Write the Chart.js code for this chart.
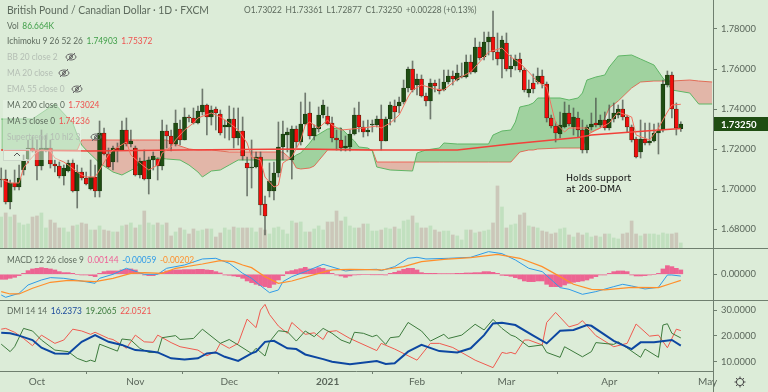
<!DOCTYPE html>
<html>
<head>
<meta charset="utf-8">
<script src="https://cdn.jsdelivr.net/npm/chart.js@4/dist/chart.umd.min.js"></script>
<style>
    html, body { margin: 0; padding: 0; background: #dcecd8; overflow: hidden; }
    #wrap { position: relative; width: 768px; height: 392px; font-family: Lato, sans-serif; }
    canvas { position: absolute; left: 0; top: 0; }
    .t { position: absolute; font-size: 9.3px; line-height: 14px; white-space: nowrap; color: #5d6a5d; transform: scaleX(.9); transform-origin: 0 0; }
    .t span { margin-left: 4px; }
    .f { color: #b4beb4; }
    .g { color: #3f9f48; } .r { color: #ef5350; } .b { color: #2f9be8; } .o { color: #ff8f2b; }
    .p { color: #ee5f95; } .n { color: #1b4a9c; } .d { color: #3c7a3c; }
    #veil { position: absolute; left: 3px; top: 100px; width: 78px; height: 60px; background: rgba(234,244,232,.5); }
    #caret { position: absolute; left: 3px; top: 149px; width: 27px; height: 12px; border: 1px solid #ccd8ca; box-sizing: border-box; }
    svg.eye { position: absolute; width: 12px; height: 12px; }
</style>
</head>
<body>
<div id="wrap">
    <canvas id="chart" width="768" height="392"></canvas>
    <div id="veil"></div>
    <div id="caret"></div>
    <div class="t" style="left:7px;top:2px;font-size:11.5px;line-height:16px">British Pound / Canadian Dollar · 1D · FXCM</div>
    <div class="t" style="left:244px;top:3px">O1.73022<span>H1.73361</span><span>L1.72877</span><span>C1.73250</span><span>+0.00228 (+0.13%)</span></div>
    <div class="t" style="left:7px;top:19px">Vol<span class="g">86.664K</span></div>
    <div class="t" style="left:7px;top:34px">Ichimoku 9 26 52 26<span class="g">1.74903</span><span class="r">1.75372</span></div>
    <div class="t f" style="left:7px;top:50px">BB 20 close 2</div>
    <div class="t f" style="left:7px;top:66px">MA 20 close</div>
    <div class="t f" style="left:7px;top:82px">EMA 55 close 0</div>
    <div class="t" style="left:7px;top:98px">MA 200 close 0<span class="r">1.73024</span></div>
    <div class="t" style="left:7px;top:114px">MA 5 close 0<span class="r">1.74236</span></div>
    <div class="t f" style="left:7px;top:130px">Supertrend 10 hl2 3</div>
    <div class="t" style="left:7px;top:253px">MACD 12 26 close 9<span class="p">0.00144</span><span class="b">-0.00059</span><span class="o">-0.00202</span></div>
    <div class="t" style="left:7px;top:304px">DMI 14 14<span class="n">16.2373</span><span class="d">19.2065</span><span class="r">22.0521</span></div>
    <div class="t" style="left:566px;top:172px;color:#111;font-family:'DejaVu Sans';font-size:9.4px;line-height:11px;transform:none">Holds support<br>at 200-DMA</div>
    <svg class="eye" style="left:65px;top:51px" viewBox="0 0 12 12"><ellipse cx="6" cy="6" rx="5" ry="3" fill="none" stroke="#666"/><circle cx="6" cy="6" r="1.5" fill="none" stroke="#666"/><path d="M2 10L10 2" stroke="#666"/></svg>
    <svg class="eye" style="left:58px;top:67px" viewBox="0 0 12 12"><ellipse cx="6" cy="6" rx="5" ry="3" fill="none" stroke="#666"/><circle cx="6" cy="6" r="1.5" fill="none" stroke="#666"/><path d="M2 10L10 2" stroke="#666"/></svg>
    <svg class="eye" style="left:71px;top:83px" viewBox="0 0 12 12"><ellipse cx="6" cy="6" rx="5" ry="3" fill="none" stroke="#666"/><circle cx="6" cy="6" r="1.5" fill="none" stroke="#666"/><path d="M2 10L10 2" stroke="#666"/></svg>
    <svg class="eye" style="left:90px;top:131px" viewBox="0 0 12 12"><ellipse cx="6" cy="6" rx="5" ry="3" fill="none" stroke="#666"/><circle cx="6" cy="6" r="1.5" fill="none" stroke="#666"/><path d="M2 10L10 2" stroke="#666"/></svg>
    <svg style="position:absolute;left:13px;top:151px;width:8px;height:8px" viewBox="0 0 8 8"><path d="M1 5L4 2L7 5" fill="none" stroke="#555"/></svg>
    <svg style="position:absolute;left:734px;top:376px;width:12px;height:12px" viewBox="0 0 12 12"><circle cx="6" cy="6" r="3.6" fill="none" stroke="#444"/><path d="M6 0.5V2.4M6 9.6V11.5M0.5 6H2.4M9.6 6H11.5M2.1 2.1L3.5 3.5M8.5 8.5L9.9 9.9M2.1 9.9L3.5 8.5M8.5 3.5L9.9 2.1" stroke="#444"/></svg>
</div>
<script>
// Candles
const opens = [1.7045,1.7050,1.6935,1.7030,1.7010,1.7095,1.7150,1.7205,1.7195,1.7115,1.7195,1.7205,1.7125,1.7115,1.7065,1.7090,1.7130,1.6990,1.7085,1.7055,1.7000,1.7060,1.6990,1.7280,1.7175,1.7135,1.7205,1.7195,1.7295,1.7225,
    1.7205,1.7070,1.7140,1.7050,1.7145,1.7150,1.7115,1.7290,1.7265,1.7225,1.7300,1.7245,1.7360,1.7355,1.7330,1.7385,1.7420,1.7360,1.7400,1.7375,1.7310,1.7310,1.7350,1.7255,1.7290,1.7130,1.7105,1.7110,1.7160,1.6925,
    1.6990,1.6990,1.7080,1.7210,1.7270,1.7145,1.7300,1.7235,1.7325,1.7380,1.7265,1.7300,1.7370,1.7365,1.7330,1.7255,1.7245,1.7205,1.7210,1.7275,1.7370,1.7310,1.7285,1.7320,1.7320,1.7350,1.7240,1.7350,1.7415,1.7415,
    1.7435,1.7505,1.7600,1.7520,1.7550,1.7465,1.7440,1.7530,1.7500,1.7495,1.7535,1.7565,1.7545,1.7560,1.7560,1.7635,1.7585,1.7710,1.7660,1.7735,1.7760,1.7685,1.7650,1.7730,1.7600,1.7615,1.7650,1.7595,1.7480,1.7530,
    1.7535,1.7565,1.7525,1.7355,1.7315,1.7275,1.7310,1.7380,1.7310,1.7355,1.7295,1.7195,1.7310,1.7330,1.7320,1.7345,1.7305,1.7350,1.7370,1.7400,1.7360,1.7310,1.7250,1.7185,1.7250,1.7230,1.7240,1.7280,1.7295,1.7520,
    1.7570,1.7400,1.73022];
const closes = [1.7050,1.6935,1.7030,1.7010,1.7055,1.7140,1.7205,1.7190,1.7115,1.7205,1.7205,1.7125,1.7115,1.7065,1.7105,1.7130,1.6990,1.7085,1.7055,1.7025,1.7060,1.6990,1.7280,1.7175,1.7110,1.7205,1.7195,1.7295,1.7225,1.7240,
    1.7070,1.7140,1.7050,1.7145,1.7165,1.7115,1.7290,1.7265,1.7225,1.7330,1.7245,1.7360,1.7355,1.7330,1.7390,1.7420,1.7360,1.7395,1.7380,1.7280,1.7320,1.7350,1.7255,1.7290,1.7165,1.7105,1.7110,1.7160,1.6920,1.6865,
    1.7040,1.7080,1.7210,1.7275,1.7285,1.7300,1.7235,1.7325,1.7375,1.7265,1.7305,1.7370,1.7420,1.7325,1.7255,1.7245,1.7205,1.7215,1.7275,1.7370,1.7310,1.7285,1.7295,1.7325,1.7350,1.7240,1.7350,1.7420,1.7385,1.7435,
    1.7505,1.7600,1.7495,1.7550,1.7465,1.7440,1.7530,1.7515,1.7490,1.7535,1.7565,1.7550,1.7580,1.7565,1.7635,1.7585,1.7710,1.7655,1.7735,1.7760,1.7685,1.7650,1.7745,1.7600,1.7615,1.7650,1.7595,1.7495,1.7500,1.7500,
    1.7565,1.7525,1.7355,1.7315,1.7280,1.7320,1.7380,1.7325,1.7360,1.7295,1.7195,1.7310,1.7325,1.7320,1.7345,1.7305,1.7350,1.7380,1.7400,1.7360,1.7310,1.7245,1.7160,1.7250,1.7230,1.7240,1.7280,1.7295,1.7525,1.7570,
    1.7400,1.7305,1.73250];
const highs = [1.7105,1.7095,1.7045,1.7095,1.7120,1.7170,1.7245,1.7260,1.7245,1.7295,1.7270,1.7245,1.7145,1.7135,1.7120,1.7145,1.7150,1.7120,1.7105,1.7085,1.7145,1.7120,1.7340,1.7305,1.7205,1.7215,1.7230,1.7340,1.7355,1.7295,
    1.7215,1.7155,1.7195,1.7160,1.7185,1.7155,1.7345,1.7320,1.7295,1.7395,1.7345,1.7405,1.7370,1.7405,1.7415,1.7500,1.7425,1.7415,1.7410,1.7395,1.7345,1.7415,1.7405,1.7405,1.7360,1.7160,1.7245,1.7185,1.7185,1.6965,
    1.7130,1.7135,1.7335,1.7340,1.7305,1.7315,1.7315,1.7435,1.7480,1.7435,1.7320,1.7410,1.7445,1.7410,1.7360,1.7295,1.7305,1.7265,1.7295,1.7405,1.7435,1.7340,1.7345,1.7345,1.7365,1.7420,1.7360,1.7435,1.7445,1.7460,
    1.7545,1.7610,1.7640,1.7575,1.7570,1.7480,1.7550,1.7545,1.7550,1.7595,1.7595,1.7590,1.7620,1.7630,1.7670,1.7670,1.7755,1.7735,1.7785,1.7785,1.7890,1.7780,1.7765,1.7780,1.7670,1.7670,1.7680,1.7605,1.7545,1.7575,
    1.7605,1.7595,1.7535,1.7370,1.7335,1.7385,1.7435,1.7420,1.7405,1.7385,1.7345,1.7320,1.7380,1.7455,1.7370,1.7385,1.7420,1.7430,1.7420,1.7445,1.7370,1.7320,1.7260,1.7345,1.7330,1.7330,1.7325,1.7330,1.7545,1.7590,
    1.7585,1.7430,1.73361];
const lows = [1.7010,1.6925,1.6900,1.6995,1.6995,1.7070,1.7130,1.7185,1.7045,1.7095,1.7185,1.7105,1.7085,1.7055,1.7020,1.7085,1.6985,1.6905,1.7045,1.7020,1.6995,1.6960,1.6960,1.7170,1.7105,1.7095,1.7135,1.7195,1.7215,1.7210,
    1.7065,1.7055,1.7045,1.6975,1.7095,1.7045,1.7095,1.7205,1.7190,1.7215,1.7220,1.7245,1.7335,1.7325,1.7325,1.7370,1.7270,1.7320,1.7295,1.7270,1.7255,1.7245,1.7205,1.7220,1.7145,1.6965,1.7005,1.7105,1.6870,1.6770,
    1.6960,1.6945,1.7060,1.7145,1.7185,1.7050,1.7205,1.7220,1.7320,1.7250,1.7245,1.7285,1.7355,1.7320,1.7235,1.7195,1.7190,1.7190,1.7190,1.7270,1.7285,1.7260,1.7265,1.7285,1.7310,1.7195,1.7240,1.7320,1.7335,1.7380,
    1.7425,1.7485,1.7485,1.7470,1.7460,1.7415,1.7350,1.7485,1.7475,1.7490,1.7525,1.7520,1.7540,1.7555,1.7555,1.7575,1.7580,1.7645,1.7645,1.7670,1.7645,1.7620,1.7555,1.7590,1.7560,1.7595,1.7585,1.7485,1.7460,1.7480,
    1.7525,1.7505,1.7335,1.7305,1.7235,1.7255,1.7305,1.7315,1.7270,1.7260,1.7180,1.7180,1.7295,1.7310,1.7310,1.7295,1.7295,1.7335,1.7355,1.7345,1.7285,1.7235,1.7155,1.7155,1.7220,1.7220,1.7235,1.7175,1.7285,1.7510,
    1.7355,1.7270,1.72877];
const volumes = [536,606,536,571,433,398,415,536,554,606,346,484,433,346,346,277,381,398,433,415,311,311,381,311,294,277,277,381,398,433,
    346,398,640,433,398,433,398,433,208,277,346,311,242,329,294,311,329,329,190,260,346,311,363,346,346,346,346,277,346,311,
    242,346,363,311,242,467,433,450,277,277,329,381,311,450,450,640,467,536,381,346,346,415,415,294,294,311,346,329,363,329,
    467,484,554,433,346,346,381,311,277,294,294,225,208,138,311,311,260,277,294,311,433,1073,709,346,398,415,571,606,381,363,
    346,294,277,242,260,329,346,225,190,260,225,260,190,208,190,242,242,173,156,242,260,467,242,208,242,242,242,225,260,242,
    242,260,86.664];
const macdHist = [-0.00165,-0.00165,-0.00132,-0.00099,-0.00044,0.00033,0.00121,0.00176,0.00198,0.0022,0.00198,0.00176,0.00143,0.00088,0.00055,0.00055,0.00033,0,-0.00022,-0.00022,-0.00044,-0.00077,0.00033,0.00088,0.0011,0.0011,0.0011,0.00143,0.00165,0.00176,
    0.00143,0.00044,-0.00022,-0.00044,-0.00044,0.00011,0.00066,0.0011,0.00132,0.00143,0.00143,0.00154,0.00154,0.00154,0.00165,0.00165,0.00143,0.00132,0.00088,0.00044,-0.00022,-0.00033,-0.00055,-0.00077,-0.00132,-0.0022,-0.00275,-0.0033,-0.00374,-0.00407,
    -0.0044,-0.0033,-0.00187,-0.00044,0.00088,0.00121,0.00154,0.00187,0.00231,0.00176,0.00176,0.0022,0.00198,0.00143,0.00033,-0.00022,-0.00055,-0.00099,-0.00055,-0.00022,-0.00011,0,0,-0.00011,-0.00011,-0.00011,-0.00022,0.00033,0.00066,0.0011,
    0.00165,0.00198,0.00198,0.00143,0.00055,0.00033,0.00033,0.00033,0.00022,0.00022,0.00022,0.00022,0.00033,0.00033,0.00044,0.00044,0.00055,0.00055,0.00088,0.00088,0.00066,0.00033,-0.00033,-0.00044,-0.00066,-0.0011,-0.00154,-0.0022,-0.00242,-0.00242,
    -0.0022,-0.0022,-0.00330,-0.00407,-0.00407,-0.00407,-0.00352,-0.00297,-0.00264,-0.00242,-0.0022,-0.00187,-0.00132,-0.00077,-0.00022,-0.00022,0.00033,0.00088,0.0011,0.0011,0.00088,-0.00022,-0.00055,-0.00055,-0.00044,-0.00022,0,0.00033,0.00176,0.00286,
    0.00253,0.00198,0.00144];

const macdIdx = [0,1,4,6,9,11,14,17,21,22,25,28,32,35,37,41,45,48,51,54,56,58,60,62,63,65,68,72,77,79,84,85,88,91,93,95,100,105,109,112,115,118,121,125,127,130,133,137,139,141,144,147,149,150,152];
const macdLine = [-0.00682,-0.00759,-0.00627,-0.00352,-0.00187,-0.0011,-0.00132,-0.00198,-0.00297,-0.00132,0,0.00198,0,0,0.00198,0.00308,0.00506,0.00528,0.00363,0.00033,-0.00132,-0.00374,-0.00605,-0.00517,-0.00242,-0.00077,0.00088,0.0033,0.0011,0.00143,0.00165,0.00121,0.00253,0.00528,0.00561,0.00506,0.00528,0.00561,0.00748,0.00682,0.00473,0.00198,0.00088,-0.0044,-0.00495,-0.0066,-0.00572,-0.00407,-0.0033,-0.00385,-0.00484,-0.00429,-0.00022,-0.00022,-0.00059];
const signalIdx = [0,2,4,7,11,15,21,25,29,32,36,39,45,49,52,54,56,59,62,65,71,74,78,85,90,94,99,105,111,116,121,125,128,132,135,141,147,150,152];
const signalLine = [-0.00572,-0.00649,-0.00649,-0.00462,-0.00264,-0.00198,-0.00242,-0.00132,0.00033,0.00055,0.00033,0.00198,0.00341,0.00451,0.00418,0.00308,0.0022,-0.00077,-0.00297,-0.0022,0.00033,0.00143,0.00165,0.00143,0.00253,0.00418,0.00495,0.0055,0.0066,0.00528,0.00253,-0.00077,-0.0033,-0.00495,-0.00517,-0.00429,-0.0044,-0.00297,-0.00202];

const adxIdx = [0,2,4,7,9,12,15,18,21,24,27,30,33,35,38,41,44,46,48,50,53,56,57,59,61,64,66,68,72,74,78,84,86,88,91,94,98,102,105,108,110,112,115,119,122,125,128,131,132,137,141,143,146,150,152];
const adxLine = [21.2,21.0,20.1,18.4,15.4,13.2,13.1,17.7,20.3,17.7,16.5,14.5,14.1,13.6,11.3,10.9,11.3,13.2,13.6,11.9,10.3,13.2,13.9,17.7,18.1,15.2,14.9,12.8,11.0,10.0,9.0,10.3,9.1,9.4,13.9,16.5,14.1,13.6,15.2,20.3,24.8,25.1,24.2,20.1,17.1,22.0,22.3,24.2,23.9,18.1,14.9,17.5,17.5,18.4,16.2373];
const plusIdx = [0,2,3,5,7,9,12,15,17,19,20,21,22,26,27,29,31,33,35,36,39,40,43,45,49,51,53,56,57,59,60,62,64,66,68,70,72,74,76,78,79,81,83,84,86,87,89,91,94,96,99,100,103,106,108,110,112,114,115,118,121,122,125,126,130,132,133,137,138,143,144,147,148,149,150,152];
const plusLine = [16.8,13.9,15.8,22.9,21.9,18.4,14.5,13.9,11.3,10.0,10.6,10.0,16.8,14.1,18.8,18.4,15.2,13.6,13.6,19.3,20.1,18.6,19.0,22.6,17.1,18.6,16.5,13.2,15.2,12.2,17.7,22.0,21.6,18.0,21.9,19.7,22.9,21.0,18.4,17.1,21.4,21.0,19.7,20.3,16.7,19.3,19.7,25.2,21.9,18.0,20.6,19.0,20.3,24.5,22.3,26.4,22.9,20.3,19.7,15.8,16.5,13.6,11.7,15.8,11.9,13.9,17.4,16.7,17.7,11.7,14.9,11.7,24.2,24.7,21.0,19.2065];
const minusIdx = [0,1,3,5,7,9,12,14,16,18,20,21,24,25,27,28,30,32,34,35,38,40,44,46,48,49,51,53,55,57,58,59,60,62,64,65,68,70,72,73,75,78,84,85,88,93,96,98,101,106,110,112,113,114,115,117,118,121,122,124,127,129,130,133,137,140,142,145,147,149,151,152];
const minusLine = [22.6,22.9,21.4,19.0,16.2,20.3,17.1,18.4,22.6,21.9,20.6,21.4,19.0,18.6,16.5,15.2,20.3,17.7,17.5,20.3,17.4,15.8,14.5,12.3,13.9,17.1,15.2,17.1,26.5,23.2,30.0,32.2,28.3,23.8,21.0,25.2,20.6,21.2,18.6,21.6,22.0,19.0,14.3,17.1,14.9,10.6,17.1,17.1,15.5,10.6,7.7,13.6,13.2,13.6,13.0,18.4,18.4,16.5,25.2,29.1,23.5,24.5,25.9,20.1,15.8,17.1,24.6,19.9,20.3,15.4,22.6,22.0521];

const cloudIdx = [0,7,12,16,17,18,19,22,25,27,30,31,35,37,40,42,44,45,47,49,51,53,63,64,65,66,67,69,70,73,76,78,79,80,82,83,84,87,92,93,95,98,99,102,109,110,112,114,115,116,118,119,120,125,127,129,130,131,133,134,135,136,138,141,143,146,148,149,150,154,156,159];
const spanA = [1.7350,1.7350,1.7425,1.7330,1.7270,1.7220,1.7195,1.7130,1.7085,1.7070,1.7105,1.7135,1.7155,1.7150,1.7145,1.7120,1.7085,1.7060,1.7090,1.7095,1.7120,1.7145,1.7145,1.7145,1.7150,1.7170,1.7180,1.7230,1.7260,1.7300,1.7305,1.7260,1.7240,1.7210,1.7205,1.7190,1.7110,1.7095,1.7090,1.7180,1.7195,1.7205,1.7230,1.7225,1.7225,1.7270,1.7290,1.7295,1.7335,1.7410,1.7420,1.7430,1.7455,1.7455,1.7445,1.7455,1.7480,1.7545,1.7560,1.7565,1.7570,1.7610,1.7665,1.7670,1.7650,1.7620,1.7555,1.7530,1.7495,1.7480,1.7425,1.7425];
const spanB = [1.7195,1.7195,1.7195,1.7195,1.7195,1.7245,1.7245,1.7245,1.7245,1.7245,1.7245,1.7245,1.7245,1.7245,1.7215,1.7200,1.7195,1.7195,1.7195,1.7190,1.7185,1.7185,1.7185,1.7165,1.7145,1.7105,1.7100,1.7105,1.7115,1.7195,1.7195,1.7195,1.7195,1.7195,1.7195,1.7195,1.7135,1.7135,1.7135,1.7135,1.7135,1.7135,1.7135,1.7135,1.7135,1.7135,1.7135,1.7135,1.7160,1.7185,1.7195,1.7195,1.7200,1.7205,1.7205,1.7205,1.7205,1.7270,1.7295,1.7305,1.7355,1.7405,1.7440,1.7505,1.7535,1.7540,1.7540,1.7540,1.7540,1.7545,1.7540,1.7535];

const ma200Idx = [0,20,40,67,83,93,102,114,129,132,141,152];
const ma200 = [1.7195,1.7190,1.7195,1.7200,1.7195,1.7195,1.7195,1.7225,1.7258,1.7270,1.7285,1.73024];
const ma5Idx = [0,2,4,5,6,8,9,11,12,14,15,17,18,19,21,22,24,25,28,29,31,33,35,36,38,39,41,43,44,47,49,51,53,55,56,58,59,61,62,63,65,67,68,69,71,73,74,76,81,84,85,87,89,91,92,94,97,99,102,105,107,109,112,114,116,118,120,122,124,126,127,131,132,134,136,138,141,142,145,147,149,150,152];
const ma5 = [1.7050,1.7030,1.7030,1.7105,1.7135,1.7185,1.7195,1.7190,1.7155,1.7135,1.7120,1.7085,1.7070,1.7060,1.7060,1.7095,1.7170,1.7195,1.7235,1.7170,1.7130,1.7095,1.7120,1.7180,1.7210,1.7245,1.7295,1.7330,1.7355,1.7380,1.7360,1.7330,1.7295,1.7230,1.7160,1.7145,1.7060,1.7010,1.7020,1.7130,1.7160,1.7245,1.7320,1.7335,1.7305,1.7345,1.7320,1.7295,1.7305,1.7315,1.7305,1.7330,1.7370,1.7460,1.7495,1.7520,1.7500,1.7495,1.7550,1.7585,1.7635,1.7685,1.7705,1.7660,1.7630,1.7585,1.7535,1.7510,1.7330,1.7285,1.7305,1.7305,1.7285,1.7305,1.7330,1.7385,1.7360,1.7270,1.7245,1.7305,1.7385,1.7420,1.74236];

const priceTicks = [1.78, 1.76, 1.74, 1.72, 1.70, 1.68];
const macdTicks = [0];
const dmiTicks = [30, 20, 10];
const dateTicks = [8, 30, 51, 73, 93, 113, 136, 158];
const dateLabels = ["Oct", "Nov", "Dec", "2021", "Feb", "Mar", "Apr", "May"];

const UP = "#1f4d12";
const DOWN = "#f20d0d";
const AXIS = "#6f7f6f";
const TEXT = "#5a665a";

const pairs = (xs, ys) => xs.map((x, i) => ({ x: x, y: ys[i] }));
const isUp = opens.map((o, i) => closes[i] >= o);
const lineSet = (label, xs, ys, yAxisID, color, width, order) => ({
    type: "line",
    label: label,
    data: pairs(xs, ys),
    yAxisID: yAxisID,
    borderColor: color,
    borderWidth: width,
    pointRadius: 0,
    tension: 0,
    fill: false,
    order: order,
});

// keep the panes flush with the canvas edges
const fixedWidth = (scale) => {
    scale.width = 55;
    scale.paddingTop = 0;
    scale.paddingBottom = 0;
};
const valueAxis = (stackWeight, min, max, ticks, digits) => ({
    type: "linear",
    position: "right",
    stack: "panes",
    stackWeight: stackWeight,
    min: min,
    max: max,
    afterBuildTicks: (scale) => { scale.ticks = ticks.map((v) => ({ value: v })); },
    afterFit: fixedWidth,
    grid: { drawOnChartArea: false, tickLength: 4, tickColor: AXIS },
    border: { display: false },
    ticks: {
        padding: 4,
        color: TEXT,
        font: { family: "Lato", size: 9.4 },
        callback: (v) => v.toFixed(digits),
    },
});

// price tag, pane separators
const paneLines = {
    id: "paneLines",
    afterDraw(chart) {
        const { ctx, chartArea, scales } = chart;
        ctx.save();
        ctx.strokeStyle = AXIS;
        ctx.lineWidth = 1;
        [[scales.y.bottom, 768], [scales.macd.bottom, 768], [scales.dmi.bottom, chartArea.right]].forEach(([y, right]) => {
            ctx.beginPath();
            ctx.moveTo(0, Math.round(y) + 0.5);
            ctx.lineTo(right, Math.round(y) + 0.5);
            ctx.stroke();
        });
        ctx.beginPath();
        ctx.moveTo(chartArea.right + 0.5, 0);
        ctx.lineTo(chartArea.right + 0.5, 392);
        ctx.stroke();

        const tagY = scales.y.getPixelForValue(closes[closes.length - 1]);
        ctx.fillStyle = UP;
        ctx.fillRect(chartArea.right + 1, tagY - 7, 54, 14);
        ctx.fillStyle = "#ffffff";
        ctx.font = "bold 9.6px Lato";
        ctx.textBaseline = "middle";
        ctx.fillText(closes[closes.length - 1].toFixed(5), chartArea.right + 8, tagY + 0.5);
        ctx.restore();
    },
};

const idx = opens.map((_, i) => i);

new Chart(document.getElementById("chart").getContext("2d"), {
    plugins: [paneLines],
    data: {
        datasets: [
            {
                type: "bar",
                label: "Vol",
                data: pairs(idx, volumes),
                yAxisID: "vol",
                barThickness: 3,
                backgroundColor: isUp.map((u) => (u ? "rgba(150,205,150,.38)" : "rgba(190,170,160,.55)")),
                order: 20,
            },
            {
                ...lineSet("Span A", cloudIdx, spanA, "y", "#5fb565", 1, 15),
                fill: { target: 2, above: "rgba(76,175,80,.42)", below: "rgba(239,83,80,.35)" },
            },
            lineSet("Span B", cloudIdx, spanB, "y", "#ef6a5a", 1, 15),
            {
                type: "bar",
                label: "Wick",
                data: idx.map((i) => ({ x: i, y: [lows[i], highs[i]] })),
                yAxisID: "y",
                barThickness: 1,
                backgroundColor: "rgba(70,78,70,.72)",
                order: 9,
            },
            {
                type: "bar",
                label: "Body",
                data: idx.map((i) => ({ x: i, y: [opens[i], closes[i]] })),
                yAxisID: "y",
                barThickness: 4,
                minBarLength: 1,
                backgroundColor: isUp.map((u) => (u ? UP : DOWN)),
                borderColor: "#16300e",
                borderWidth: 0.6,
                borderSkipped: false,
                order: 8,
            },
            lineSet("MA 200", ma200Idx, ma200, "y", "#f2413a", 1.5, 4),
            lineSet("MA 5", ma5Idx, ma5, "y", "#f2705f", 1, 3),
            {
                type: "bar",
                label: "Histogram",
                data: pairs(idx, macdHist),
                yAxisID: "macd",
                barThickness: 4,
                backgroundColor: "rgba(240,70,130,.82)",
                order: 8,
            },
            lineSet("MACD", macdIdx, macdLine, "macd", "#2f9be8", 1, 3),
            lineSet("Signal", signalIdx, signalLine, "macd", "#ff8f2b", 1.2, 2),
            lineSet("DMI+", plusIdx, plusLine, "dmi", "#3c7a3c", 1, 3),
            lineSet("DMI-", minusIdx, minusLine, "dmi", "#ef5a4f", 1, 3),
            lineSet("ADX", adxIdx, adxLine, "dmi", "#0d47a1", 2, 2),
        ],
    },
    options: {
        responsive: false,
        animation: false,
        layout: { padding: 0 },
        datasets: { bar: { grouped: false } },
        plugins: { legend: { display: false }, tooltip: { enabled: false } },
        scales: {
            x: {
                type: "linear",
                offset: false,
                min: -0.27,
                max: 159.2,
                afterBuildTicks: (scale) => { scale.ticks = dateTicks.map((v) => ({ value: v })); },
                afterFit: (scale) => {
                    scale.height = 21;
                    scale.paddingLeft = 0;
                    scale.paddingRight = 0;
                },
                grid: { drawOnChartArea: false, tickLength: 3, tickColor: AXIS },
                border: { display: false },
                ticks: {
                    autoSkip: false,
                    maxRotation: 0,
                    padding: 2,
                    color: TEXT,
                    font: (c) => ({ family: "Lato", size: 10, weight: c.tick && c.tick.value === 73 ? "bold" : "normal" }),
                    callback: (v) => dateLabels[dateTicks.indexOf(v)],
                },
            },
            y: valueAxis(248, 1.6705, 1.7945, priceTicks, 5),
            macd: valueAxis(52, -0.00848, 0.00868, macdTicks, 5),
            dmi: valueAxis(71, 6.4, 33.9, dmiTicks, 4),
            vol: { type: "linear", display: false, position: "right", min: -2128, max: 4290 },
        },
    },
});
</script>
</body>
</html>
